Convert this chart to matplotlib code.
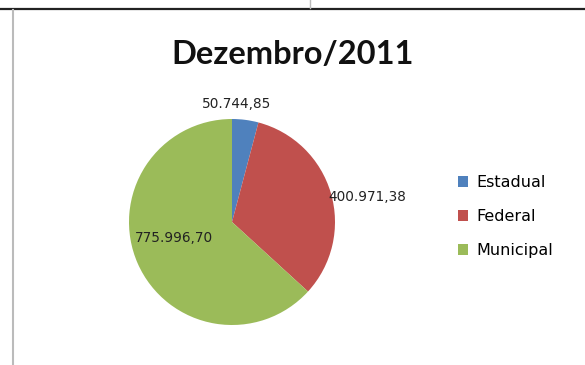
import numpy as np
import matplotlib
matplotlib.use("Agg")
import matplotlib.pyplot as plt
from matplotlib.lines import Line2D

# dados do grafico
categorias = ["Estadual", "Federal", "Municipal"]
valores = [50744.85, 400971.38, 775996.70]
rotulos = ["50.744,85", "400.971,38", "775.996,70"]
cores = ["#4F81BD", "#C0504D", "#9BBB59"]

plt.rcParams['font.family'] = ['DejaVu Sans']

fig = plt.figure(figsize=(5.85, 3.65), dpi=100)
fig.patch.set_facecolor("white")

# moldura (linhas da planilha)
fig.add_artist(Line2D([0, 1], [1 - 8.5/365, 1 - 8.5/365], color="#222222", lw=1.6))
fig.add_artist(Line2D([12.5/585, 12.5/585], [0, 1 - 10/365], color="#bbbbbb", lw=1.5))
fig.add_artist(Line2D([310/585, 310/585], [1 - 8/365, 1], color="#bbbbbb", lw=1.0))

fig.text(293/585, 1 - 54/365, "Dezembro/2011", ha="center", va="center",
         fontsize=23.5, fontweight="bold", color="#111111", family=["Lato", "DejaVu Sans"])

ax = fig.add_axes([(232 - 103)/585, (365 - 325)/365, 206/585, 206/365])
wedges, _ = ax.pie(valores, colors=cores, startangle=90, counterclock=False,
                   wedgeprops=dict(linewidth=0))
ax.set_xlim(-1, 1)
ax.set_ylim(-1, 1)
ax.set_aspect("equal")

# rotulos de dados
dist = [1.16, 0.97, 0.62]
alin = ["center", "left", "center"]
desloc_y = [0.0, -0.03, 0.09]
for w, txt, d, ha, dy in zip(wedges, rotulos, dist, alin, desloc_y):
    ang = np.deg2rad((w.theta1 + w.theta2) / 2)
    x, y = d * np.cos(ang), d * np.sin(ang) + dy
    if ha == "center" and d > 1:
        x = x * 0.3
    ax.text(x, y, txt, ha=ha, va="center", fontsize=9.8, color="#222222")

fig.legend(wedges, categorias, loc="upper left",
           bbox_to_anchor=(458/585, 1 - 175/365), frameon=False,
           handlelength=0.63, handleheight=0.63, handletextpad=0.55,
           labelspacing=1.2, borderpad=0, borderaxespad=0, fontsize=11.5)

fig.savefig("out.png", dpi=100, facecolor="white")
